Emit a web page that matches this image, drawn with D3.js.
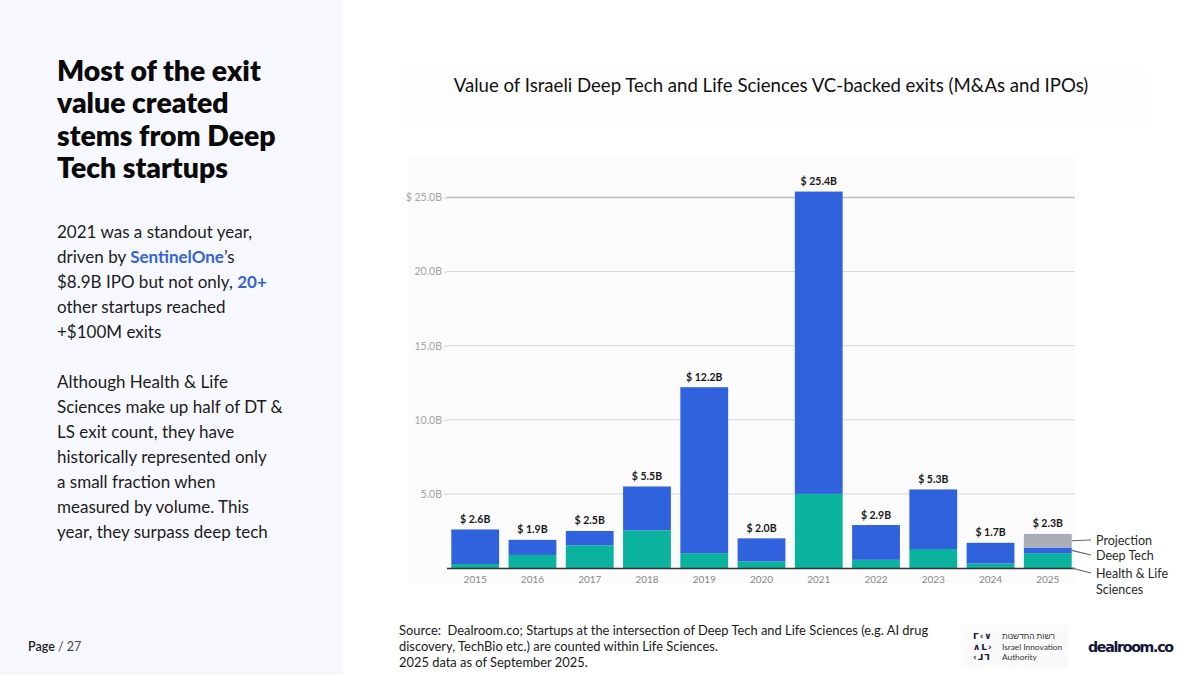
<!DOCTYPE html>
<html><head><meta charset="utf-8">
<script src="https://cdn.jsdelivr.net/npm/d3@7/dist/d3.min.js"></script>
<style>
html,body{margin:0;padding:0;background:#fff;}
svg{display:block;}
</style></head>
<body>
<svg id="c" width="1200" height="675"></svg>
<script>
const years = ["2015","2016","2017","2018","2019","2020","2021","2022","2023","2024","2025"];
const healthLife = [0.27,0.88,1.53,2.54,1.0,0.45,5.0,0.55,1.28,0.3,1.0];
const deepTech   = [2.33,1.02,0.97,2.96,11.2,1.55,20.4,2.35,4.02,1.4,0.38];
const projection = [0,0,0,0,0,0,0,0,0,0,0.92];
const totalLabels = ["$ 2.6B","$ 1.9B","$ 2.5B","$ 5.5B","$ 12.2B","$ 2.0B","$ 25.4B","$ 2.9B","$ 5.3B","$ 1.7B","$ 2.3B"];
const yTicks = [5,10,15,20,25];
const yTickLabels = ["5.0B","10.0B","15.0B","20.0B","$ 25.0B"];
const seriesNames = ["Health & Life Sciences","Deep Tech","Projection"];
const seriesColors = ["#0BB29D","#3062DE","#A9AEB8"];

const FONT = "Lato, 'Noto Sans', sans-serif";
const svg = d3.select("#c");

// left panel
svg.append("rect").attr("x",0).attr("y",0).attr("width",343).attr("height",675).attr("fill","#F7F8FD");

const titleLines = ["Most of the exit","value created","stems from Deep","Tech startups"];
svg.append("g").selectAll("text").data(titleLines).join("text")
  .attr("x",57).attr("y",(d,i)=>81+i*32.3)
  .attr("font-family",FONT).attr("font-weight",800).attr("font-size",28.4)
  .attr("fill","#0a0a0a").text(d=>d);

const para = [
  [["2021 was a standout year,",false]],
  [["driven by ",false],["SentinelOne",true],["’s",false]],
  [["$8.9B IPO but not only, ",false],["20+",true]],
  [["other startups reached",false]],
  [["+$100M exits",false]],
  [],
  [["Although Health & Life",false]],
  [["Sciences make up half of DT &",false]],
  [["LS exit count, they have",false]],
  [["historically represented only",false]],
  [["a small fraction when",false]],
  [["measured by volume. This",false]],
  [["year, they surpass deep tech",false]]
];
para.forEach((line,i)=>{
  const t = svg.append("text").attr("x",57).attr("y",238+i*25)
    .attr("font-family",FONT).attr("font-size",17).attr("fill","#1c1c1c");
  line.forEach(([s,hl])=>{
    t.append("tspan").text(s)
      .attr("fill",hl?"#3563D8":"#1c1c1c")
      .attr("font-weight",hl?700:400);
  });
});

const pg = svg.append("text").attr("x",28).attr("y",651).attr("font-family",FONT).attr("font-size",12.5).attr("fill","#222");
pg.append("tspan").text("Page").attr("font-weight",600);
pg.append("tspan").text(" / 27").attr("fill","#444");

// chart title box
svg.append("rect").attr("x",400).attr("y",70).attr("width",745).attr("height",56).attr("fill","#FDFDFD");
svg.append("text").attr("x",771).attr("y",92).attr("text-anchor","middle")
  .attr("font-family",FONT).attr("font-size",18.6).attr("fill","#111")
  .text("Value of Israeli Deep Tech and Life Sciences VC-backed exits (M&As and IPOs)");

// plot background
svg.append("rect").attr("x",408).attr("y",157).attr("width",667).attr("height",426).attr("fill","#FBFBFB");

const x = d3.scaleBand().domain(years).range([447,1076]).paddingInner(0.165).paddingOuter(0.075);
const y = d3.scaleLinear().domain([0,25]).range([568,197.5]);

// gridlines
svg.append("g").selectAll("line").data(yTicks).join("line")
  .attr("x1",447).attr("x2",1075).attr("y1",d=>y(d)).attr("y2",d=>y(d))
  .attr("stroke",(d,i)=>i===yTicks.length-1?"#BDBDBD":"#D6D6D6").attr("stroke-width",(d,i)=>i===yTicks.length-1?1.5:1);

const yAxis = svg.append("g").attr("transform","translate(447,0)")
  .call(d3.axisLeft(y).tickValues(yTicks).tickFormat((d,i)=>yTickLabels[i]).tickSize(3).tickPadding(2));
yAxis.select(".domain").remove();
yAxis.selectAll(".tick line").attr("stroke","#CFCFCF");
yAxis.selectAll("text").attr("font-family",FONT).attr("font-size",10.5).attr("fill","#A5A5A5");

// stacked bars
const rows = years.map((yr,i)=>({year:yr,h:healthLife[i],d:deepTech[i],p:projection[i]}));
const stack = d3.stack().keys(["h","d","p"])(rows);
svg.append("g").selectAll("g").data(stack).join("g")
  .attr("fill",(d,i)=>seriesColors[i])
  .selectAll("rect").data(d=>d).join("rect")
  .attr("x",d=>x(d.data.year)).attr("width",x.bandwidth())
  .attr("y",d=>y(d[1])).attr("height",d=>Math.max(0,y(d[0])-y(d[1])));

// baseline
svg.append("line").attr("x1",447).attr("x2",1075).attr("y1",y(0)+0.5).attr("y2",y(0)+0.5).attr("stroke","#333").attr("stroke-width",1.3);

// total labels
svg.append("g").selectAll("text").data(rows).join("text")
  .attr("x",d=>x(d.year)+x.bandwidth()/2)
  .attr("y",d=>y(d.h+d.d+d.p)-6.5)
  .attr("text-anchor","middle").attr("font-family",FONT).attr("font-weight",700)
  .attr("font-size",10.5).attr("fill","#1a1a1a").text((d,i)=>totalLabels[i]);

// x axis
const xAxis = svg.append("g").attr("transform",`translate(0,${y(0)})`)
  .call(d3.axisBottom(x).tickSize(0).tickPadding(8));
xAxis.select(".domain").remove();
xAxis.selectAll("text").attr("font-family",FONT).attr("font-size",10).attr("fill","#888");

// legend with leader lines
const last = rows[rows.length-1];
const bx = x(last.year)+x.bandwidth();
const legend = [
  {name:"Projection", yv:last.h+last.d+last.p/2, ty:540, lines:["Projection"]},
  {name:"Deep Tech", yv:last.h+last.d/2, ty:555, lines:["Deep Tech"]},
  {name:"Health & Life Sciences", yv:0, ty:573, lines:["Health & Life","Sciences"]}
];
legend.forEach(l=>{
  svg.append("line").attr("x1",bx).attr("y1",y(l.yv)).attr("x2",1091).attr("y2",l.ty)
    .attr("stroke","#666").attr("stroke-width",1.2);
  l.lines.forEach((s,j)=>{
    svg.append("text").attr("x",1096).attr("y",l.ty+4.5+j*16)
      .attr("font-family",FONT).attr("font-size",12.5).attr("fill","#2a2a2a").text(s);
  });
});

// footer
const src = ["Source:  Dealroom.co; Startups at the intersection of Deep Tech and Life Sciences (e.g. AI drug",
             "discovery, TechBio etc.) are counted within Life Sciences.",
             "2025 data as of September 2025."];
svg.append("g").selectAll("text").data(src).join("text")
  .attr("x",399).attr("y",(d,i)=>635+i*16).style("white-space","pre")
  .attr("font-family",FONT).attr("font-size",12.9).attr("fill","#1a1a1a").text(d=>d);

// IIA logo
svg.append("rect").attr("x",961).attr("y",625).attr("width",107).attr("height",43).attr("fill","#FAFAFA");
const glyphs = ["ᒥ‹∨","∧ᒪ›","‹ᒧᒣ"];
glyphs.forEach((g,i)=>{
  svg.append("text").attr("x",973).attr("y",639+i*10.5).attr("font-family","'DejaVu Sans'")
    .attr("font-size",9).attr("font-weight",700).attr("fill","#1b1f3b").attr("letter-spacing",1).text(g);
});
["רשות החדשנות","Israel Innovation","Authority"].forEach((s,i)=>{
  svg.append("text").attr("x",1002).attr("y",639+i*10.5).attr("font-family",FONT)
    .attr("font-size",8.3).attr("fill","#333").text(s);
});
svg.append("text").attr("x",1088).attr("y",652).attr("font-family","'DejaVu Sans', sans-serif")
  .attr("font-weight",900).attr("font-size",14.2).attr("letter-spacing",-1.3).attr("fill","#121638").text("dealroom.co");
</script>
</body></html>
